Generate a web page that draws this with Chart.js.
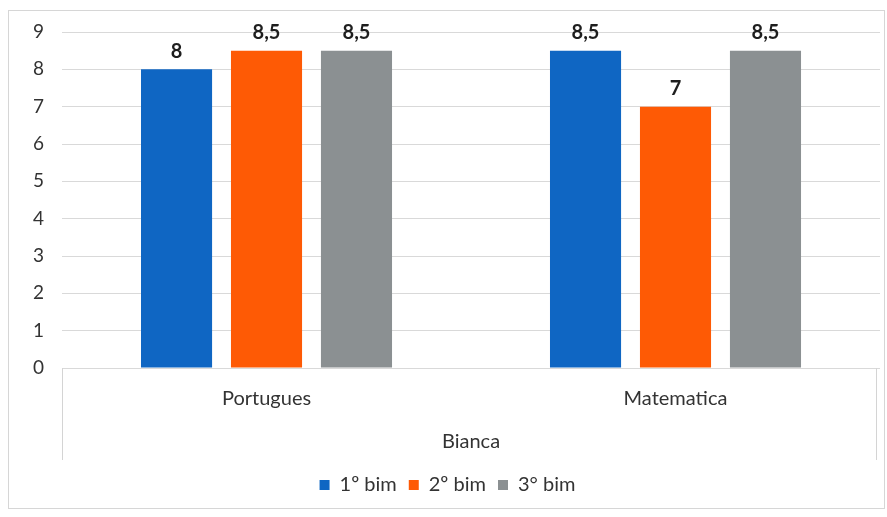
<!DOCTYPE html>
<html>
<head>
<meta charset="utf-8">
<script src="https://cdn.jsdelivr.net/npm/chart.js@4"></script>
<style>
  html, body { margin: 0; padding: 0; background: #fff; }
  #moldura {
    position: absolute; left: 8px; top: 10px;
    width: 875px; height: 497px;
    border: 1px solid #d6d6d6;
  }
  canvas { display: block; }
</style>
</head>
<body>
<div id="moldura"><canvas id="grafico" width="875" height="497"></canvas></div>
<script>
// Notas da Bianca por bimestre
const materias = ['Portugues', 'Matematica'];
const bim1 = [8, 8.5];
const bim2 = [8.5, 7];
const bim3 = [8.5, 8.5];
const nomesSeries = ['1º bim', '2º bim', '3° bim'];
const cores = ['#0f66c3', '#fe5a05', '#8b9092'];
const ticksY = [0, 1, 2, 3, 4, 5, 6, 7, 8, 9];

const fonte = 'Lato, "Open Sans", sans-serif';
const corTexto = '#333333';

// rótulos em cima das barras (vírgula decimal)
const rotulos = {
  id: 'rotulos',
  afterDatasetsDraw(chart) {
    const ctx = chart.ctx;
    ctx.save();
    ctx.font = 'bold 20px ' + fonte;
    ctx.fillStyle = '#1e1e1e';
    ctx.textAlign = 'center';
    ctx.textBaseline = 'bottom';
    chart.data.datasets.forEach((ds, i) => {
      chart.getDatasetMeta(i).data.forEach((bar, j) => {
        const txt = String(ds.data[j]).replace('.', ',');
        ctx.fillText(txt, bar.x, bar.y - 8);
      });
    });
    ctx.restore();
  }
};

// linhas verticais do eixo de categorias em dois níveis
const linhasEixo = {
  id: 'linhasEixo',
  afterDraw(chart) {
    const x = chart.scales.x;
    const ctx = chart.ctx;
    ctx.save();
    ctx.strokeStyle = '#d4d4d4';
    ctx.lineWidth = 1;
    [x.left, x.right - 4].forEach(px => {
      ctx.beginPath();
      ctx.moveTo(Math.round(px) + 0.5, x.top);
      ctx.lineTo(Math.round(px) + 0.5, x.bottom - 3);
      ctx.stroke();
    });
    ctx.restore();
  }
};

new Chart(document.getElementById('grafico'), {
  type: 'bar',
  data: {
    labels: materias,
    datasets: [bim1, bim2, bim3].map((d, i) => ({
      label: nomesSeries[i],
      data: d,
      backgroundColor: cores[i],
      categoryPercentage: 0.66,
      barPercentage: 0.79
    }))
  },
  plugins: [rotulos, linhasEixo],
  options: {
    responsive: false,
    animation: false,
    layout: { padding: { left: 6, right: 4, top: 21, bottom: 3 } },
    plugins: {
      tooltip: { enabled: false },
      legend: {
        position: 'bottom',
        labels: {
          boxWidth: 10, boxHeight: 10,
          padding: 12,
          color: corTexto,
          font: { family: fonte, size: 20 }
        }
      }
    },
    scales: {
      x: {
        grid: { display: false },
        border: { display: false },
        ticks: { color: corTexto, font: { family: fonte, size: 20 }, padding: 11 },
        title: {
          display: true, text: 'Bianca', color: corTexto,
          font: { family: fonte, size: 20 }, padding: { top: 8, bottom: 9 }
        }
      },
      y: {
        min: 0, max: 9,
        afterBuildTicks(axis) { axis.ticks = ticksY.map(v => ({ value: v })); },
        afterFit(axis) { axis.paddingTop = 0; },
        grid: { color: '#d9d9d9', drawTicks: false },
        border: { display: false },
        ticks: { color: corTexto, font: { family: fonte, size: 19 }, padding: 18 }
      }
    }
  }
});
</script>
</body>
</html>
